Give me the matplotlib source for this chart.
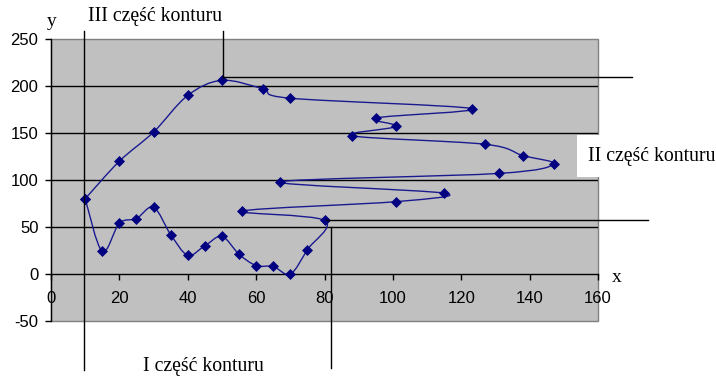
import numpy as np
import matplotlib
matplotlib.use("Agg")
import matplotlib.pyplot as plt
from matplotlib.path import Path
from matplotlib.patches import PathPatch, Rectangle

# contour points, in drawing order (starts and ends at the same point)
xs = [10, 20, 30, 40, 50, 62, 70, 123, 95, 101, 88, 127, 138, 147, 131,
      67, 115, 101, 56, 80, 75, 70, 65, 60, 55, 50, 45, 40, 35, 30, 25,
      20, 15, 10]
ys = [80, 120, 151, 190, 206, 197, 187, 176, 166, 157, 147, 138, 126, 117, 107,
      98, 86, 77, 67, 57, 26, 0, 8, 9, 21, 40, 30, 20, 42, 71, 59,
      54, 24, 80]

x_ticks = [0, 20, 40, 60, 80, 100, 120, 140, 160]
y_ticks = [-50, 0, 50, 100, 150, 200, 250]
grid_y = [50, 100, 150, 200]

# separator lines of contour parts: (x0, x1, y0, y1)
separators = [
    (9.7, 9.7, 259, -102),
    (50.2, 50.2, 259, 210),
    (50.2, 170, 210, 210),
    (80.5, 174.7, 57.5, 57.5),
    (81.9, 81.9, 50, -100),
]

labels = [
    ("III część konturu", 155, 17),
    ("II część konturu", 652, 156),
    ("I część konturu", 203, 366),
]

W, H = 716, 378
fig = plt.figure(figsize=(W / 100, H / 100), dpi=100)
fig.patch.set_facecolor("white")
ax = fig.add_axes([51 / W, 1 - 321 / H, (598 - 51) / W, (321 - 39) / H])
ax.set_facecolor("#C0C0C0")
ax.set_xlim(0, 160)
ax.set_ylim(-50, 250)

for g in grid_y:
    ax.axhline(g, color="black", lw=1.0, zorder=1)

# smoothed open curve (Catmull-Rom as cubic Bezier via matplotlib Path)
P = np.column_stack([xs, ys]).astype(float)
n = len(P)
verts = [P[0]]
codes = [Path.MOVETO]
for i in range(n - 1):
    p0 = P[i - 1] if i > 0 else P[i]
    p1 = P[i]
    p2 = P[i + 1]
    p3 = P[i + 2] if i + 2 < n else P[i + 1]
    c1 = p1 + (p2 - p0) / 6.0
    c2 = p2 - (p3 - p1) / 6.0
    verts += [c1, c2, p2]
    codes += [Path.CURVE4] * 3
ax.add_patch(PathPatch(Path(verts, codes), facecolor="none",
                       edgecolor="#1a1a90", lw=1.0, zorder=3))
ax.plot(xs, ys, linestyle="none", marker="D", ms=5.2, color="#000080",
        mec="#000080", mew=0.5, zorder=4)

for (x0, x1, y0, y1) in separators:
    ax.plot([x0, x1], [y0, y1], color="black", lw=1.0, clip_on=False, zorder=5)

# axes styling
for s in ["top", "right"]:
    ax.spines[s].set_visible(False)
ax.spines["left"].set_color("black")
ax.spines["left"].set_linewidth(1.0)
ax.spines["left"].set_zorder(2)
ax.spines["bottom"].set_position(("data", 0))
ax.spines["bottom"].set_color("black")
ax.spines["bottom"].set_linewidth(1.0)
ax.add_patch(Rectangle((0, 0), 1, 1, transform=ax.transAxes, fill=False,
                       edgecolor="#808080", lw=1.0, zorder=0.5, clip_on=False))

ax.set_xticks(x_ticks)
ax.set_xticklabels([str(t) for t in x_ticks])
ax.set_yticks(y_ticks)
ax.set_yticklabels([str(t) for t in y_ticks])
ax.tick_params(axis="x", direction="out", length=4, width=1, pad=8,
               labelsize=12, colors="black")
ax.tick_params(axis="y", direction="out", length=4, width=1, pad=5,
               labelsize=12, colors="black")
for lab in ax.get_xticklabels() + ax.get_yticklabels():
    lab.set_fontfamily("Liberation Sans")

fig.text(52 / W, 1 - 21 / H, "y", family="Liberation Serif", fontsize=14,
         ha="center", va="center")
fig.text(617 / W, 1 - 278 / H, "x", family="Liberation Serif", fontsize=14,
         ha="center", va="center")

for txt, px, py in labels:
    kw = {}
    if txt.startswith("II "):
        kw["bbox"] = dict(facecolor="white", edgecolor="none", pad=8)
    fig.text(px / W, 1 - py / H, txt, family="Liberation Serif", fontsize=14.2,
             ha="center", va="center", zorder=10, **kw)

fig.savefig("out.png", dpi=100)
